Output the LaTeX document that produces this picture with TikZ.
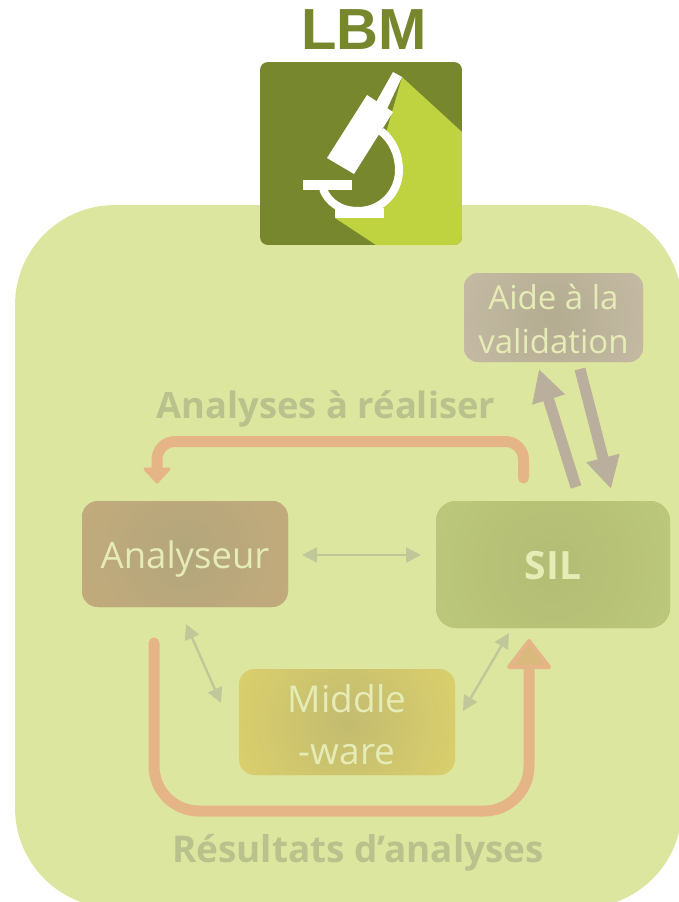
\documentclass[tikz,border=0pt]{standalone}
\usepackage{fontspec}
\setmainfont{Open Sans}
\newfontfamily\lbmfont{Liberation Sans}
\usetikzlibrary{arrows.meta}
\definecolor{bgc}{HTML}{DDE69E}
\definecolor{darkg}{HTML}{76872D}
\definecolor{lightg}{HTML}{BFD240}
\definecolor{loopc}{HTML}{E5B587}
\definecolor{pale}{HTML}{E6ECB6}
\definecolor{thinc}{HTML}{C0C89A}
\definecolor{taupe}{HTML}{BAAE9C}
\definecolor{labc}{HTML}{B9C28C}
\definecolor{headc}{HTML}{D9B97C}
\definecolor{anI}{HTML}{B3A67C}\definecolor{anO}{HTML}{C5AC7C}
\definecolor{siI}{HTML}{B3BC74}\definecolor{siO}{HTML}{BCC97B}
\definecolor{aiI}{HTML}{B3AC90}\definecolor{aiO}{HTML}{CCC0AD}
\definecolor{miI}{HTML}{C3BB70}\definecolor{miO}{HTML}{DED36C}
\tikzset{
 gradbox/.style n args={2}{rounded corners=16pt, fill=#2, text=pale, align=center, inner sep=0pt,
   path picture={\shade[inner color=#1, outer color=#2] (path picture bounding box.center) circle (140pt);}},
 lab/.style={text=labc, font=\fontsize{36.3}{40}\selectfont\bfseries},
 thinarrow/.style={draw=thinc, line width=2.4pt, {Triangle[length=15pt,width=15pt]}-{Triangle[length=15pt,width=15pt]}},
 bigarrow/.style={draw=taupe, line width=11pt, -{Triangle[length=32pt,width=32pt]}},
 whitepart/.style={fill=white, draw=none},
}
\begin{document}
\begin{tikzpicture}[x=1pt,y=-1pt]
\useasboundingbox (0,0) rectangle (679,902);
\clip (0,0) rectangle (679,902);
\fill[bgc, rounded corners=100pt] (15,205) rectangle (682,908);
% icon
\begin{scope}
\clip[rounded corners=8pt] (260,62) rectangle (462,245);
\fill[darkg] (260,62) rectangle (462,245);
\fill[lightg] (402,77) -- (462,132) -- (462,245) -- (376,245) -- (335,218) -- (384,140) -- cycle;
\end{scope}
\fill[darkg] (381,131) .. controls (393,141) and (399,155) .. (399,170) .. controls (399,193) and (381,211) .. (358,211) .. controls (340,211) and (328,202) .. (323,189) -- (345,170) -- cycle;
\fill[whitepart] (393,72) -- (402,77) -- (386,111) -- (375,104) -- cycle;
\fill[whitepart] (367,95) -- (393,112) -- (354,174) -- (327,158) -- cycle;
\draw[white, line width=8pt] (381,131) .. controls (393,141) and (399,155) .. (399,170) .. controls (399,193) and (381,211) .. (358,211) .. controls (340,211) and (328,202) .. (323,189);
\fill[whitepart] (335,208) rectangle (384,218);
\fill[whitepart] (303,180) rectangle (352,190);
\node[text=darkg, font=\fontsize{58}{58}\selectfont\bfseries\lbmfont, inner sep=0pt] (title) at (364,30) {LBM};
% boxes
\node[gradbox={anI}{anO}, minimum width=206pt, minimum height=106pt, font=\fontsize{36.5}{40}\selectfont] (analyseur) at (185,554) {\raisebox{-14pt}[0pt][0pt]{Analyseur}};
\node[gradbox={siI}{siO}, rounded corners=20pt, minimum width=234pt, minimum height=127pt, font=\fontsize{39}{40}\selectfont\bfseries] (sil) at (553,564.5) {\rule{0pt}{30.5pt}SIL};
\node[gradbox={aiI}{aiO}, rounded corners=14pt, minimum width=179pt, minimum height=89pt, font=\fontsize{33}{44}\selectfont] (aide) at (553.5,317.5) {\rule{0pt}{28pt}Aide à la\\validation};
\node[gradbox={miI}{miO}, minimum width=216pt, minimum height=106pt, font=\fontsize{37}{52}\selectfont] (mw) at (347,722) {\rule{0pt}{33pt}Middle\\-ware};
% labels
\node[lab] (l1) at (326,409) {Analyses à réaliser};
\node[lab, font=\fontsize{36.9}{40}\selectfont\bfseries] (l2) at (358,853) {Résultats d’analyses};
% thin arrows
\coordinate (a1) at (302,555); \coordinate (a2) at (421,555);
\draw[thinarrow] (a1) -- (a2);
\coordinate (b1) at (186,624); \coordinate (b2) at (221,703);
\draw[thinarrow] (b1) -- (b2);
\coordinate (c1) at (463,711); \coordinate (c2) at (509,633);
\draw[thinarrow] (c1) -- (c2);
% big taupe
\coordinate (d1) at (576,487); \coordinate (d2) at (539,369);
\draw[bigarrow] (d1) -- (d2);
\coordinate (e1) at (580,369); \coordinate (e2) at (611,489);
\draw[bigarrow] (e1) -- (e2);
% loops
\coordinate (f1) at (523.5,478); \coordinate (f2) at (157,470);
\draw[draw=loopc, line width=11pt, line cap=round, rounded corners=18pt] (f1) -- (523.5,441.5) -- (157,441.5) -- (f2);
\fill[loopc, draw=loopc, line width=3pt, line join=round] (145,469) -- (169,469) -- (157,482) -- cycle;
\coordinate (g1) at (154,643); \coordinate (g2) at (529,670);
\draw[draw=loopc, line width=11pt, line cap=round, rounded corners=45pt] (g1) -- (154,811) -- (529,811) -- (g2);
\draw[draw=loopc, line width=4pt, line join=round, fill=headc] (509,667) -- (549,667) -- (529,641) -- cycle;
\end{tikzpicture}
\end{document}
